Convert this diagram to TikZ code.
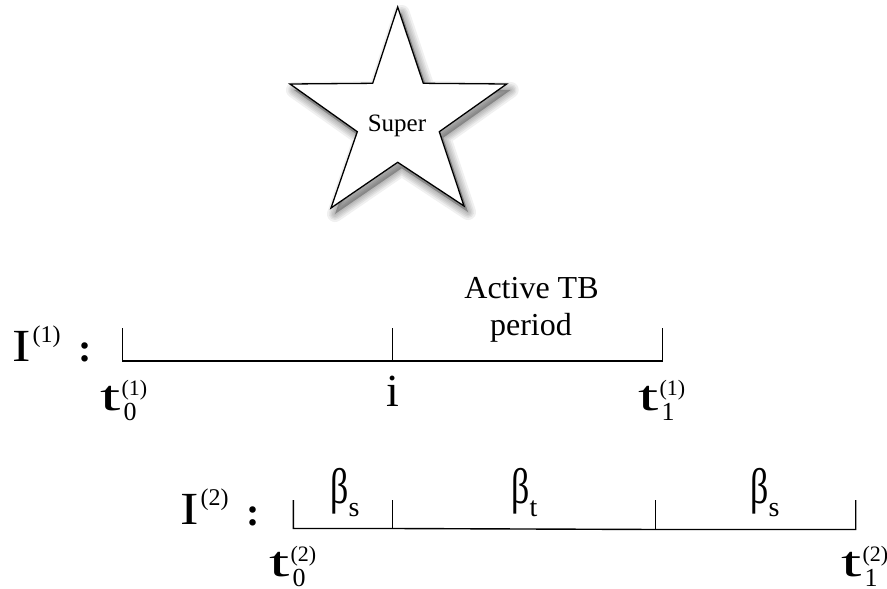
\documentclass[tikz,border=0pt]{standalone}
\usepackage{fontspec}
\setmainfont{Liberation Serif}
\usepackage{graphicx}
\newcommand{\fs}[1]{\fontsize{#1}{#1}\selectfont}
\newcommand{\tlab}[2]{\scalebox{1.7}[1]{\fs{43}t}\kern1pt\rlap{\raisebox{15pt}{\fs{22}(#1)}}\kern2pt\raisebox{-10pt}{\fs{26}#2}}
\newcommand{\Ilab}[1]{\scalebox{1.2}[1]{\fs{46}I}\kern2pt\raisebox{19pt}{\fs{24}(#1)}}
\newcommand{\blab}[1]{\scalebox{0.72}[1]{\fs{50}β}\raisebox{-13pt}{\fs{28}#1}}
\newcommand{\starpoly}[1]{\path[#1] (397.7,7) -- (423.3,83.3) -- (506.7,84) -- (439.3,131.7) -- (464,206) -- (397.7,162.3) -- (331,208) -- (357.3,131.7) -- (290,84) -- (372.7,83.3) -- cycle;}
\tikzset{
  tl/.style={line width=1.4pt, line join=miter, line cap=butt},
  lab/.style={inner sep=0pt, anchor=base west},
  colon/.style={inner sep=0pt, anchor=base, font=\fs{40}\bfseries},
}
\begin{document}
\begin{tikzpicture}[x=1pt,y=-1pt]
\useasboundingbox (0,0) rectangle (887,589);
\fill[white] (0,0) rectangle (887,589);
% star shadow
\foreach \w in {16,12,9,6,3}{
  \starpoly{fill=black, draw=black, fill opacity=0.06, draw opacity=0.06, line width=\w pt, line join=round, shift={(4,6)}}
}
\starpoly{fill=white, draw=black, line width=1.3pt, line join=miter}
\node[inner sep=0pt, anchor=base] (super) at (397,131) {\fs{25}Super};
% timeline 1
\coordinate (a0) at (122.7,361); \coordinate (a0t) at (122.7,328);
\coordinate (a1) at (392.7,361); \coordinate (a1t) at (392.7,328);
\coordinate (a2) at (662.7,361); \coordinate (a2t) at (662.7,328);
\draw[tl] (a0t) -- (a0) -- (a2) -- (a2t);
\draw[tl] (a1) -- (a1t);
\node[lab] (I1) at (12,361) {\Ilab{1}};
\node[colon] (col1) at (85.5,361) {:};
\node[lab] (t01) at (100,410) {\tlab{1}{0}};
\node[inner sep=0pt, anchor=base] (i) at (393,406) {\fs{46}i};
\node[lab] (t11) at (638,410) {\tlab{1}{1}};
\node[inner sep=0pt, anchor=base] (act) at (531.5,298) {\fs{32}Active TB};
\node[inner sep=0pt, anchor=base] (per) at (531,335) {\fs{32}period};
% timeline 2
\coordinate (b0) at (293.3,528.5); \coordinate (b0t) at (293.3,500);
\coordinate (b1) at (392.7,528.5); \coordinate (b1t) at (392.7,500);
\coordinate (b2) at (655.7,529.5); \coordinate (b2t) at (655.7,500);
\coordinate (b3) at (855.7,529.5); \coordinate (b3t) at (855.7,500);
\draw[tl] (b0t) -- (b0) -- (b1) -- (b2) -- (b3) -- (b3t);
\draw[tl] (b1) -- (b1t);
\draw[tl] (b2) -- (b2t);
\node[lab] (I2) at (180,524) {\Ilab{2}};
\node[colon] (col2) at (253,525) {:};
\node[lab] (bs1) at (330,503) {\blab{s}};
\node[lab] (bt) at (511,503) {\blab{t}};
\node[lab] (bs2) at (750,503) {\blab{s}};
\node[lab] (t02) at (269,576) {\tlab{2}{0}};
\node[lab] (t12) at (841,576) {\tlab{2}{1}};
\end{tikzpicture}
\end{document}
